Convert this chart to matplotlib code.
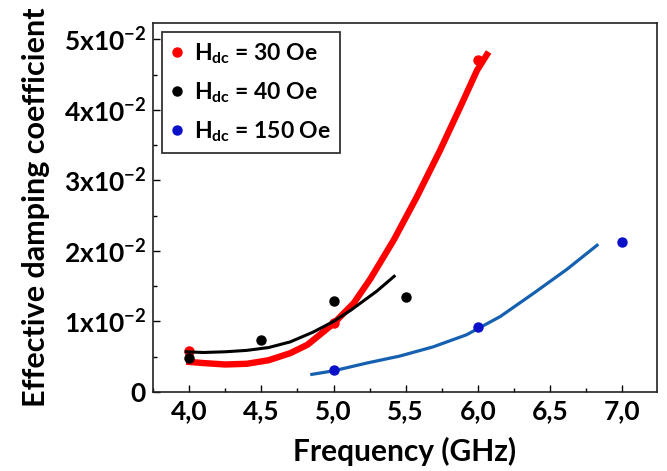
import matplotlib
matplotlib.use("Agg")
import matplotlib.pyplot as plt
from matplotlib.ticker import FixedLocator, MultipleLocator

plt.rcParams['font.family'] = ['Lato', 'DejaVu Sans']
plt.rcParams['mathtext.fontset'] = 'custom'
plt.rcParams['mathtext.rm'] = 'Lato:bold'
plt.rcParams['mathtext.bf'] = 'Lato:bold'
plt.rcParams['mathtext.it'] = 'Lato:bold'

# Measured points
freq_30 = [4.0, 5.0, 6.0]
damp_30 = [0.0058, 0.0098, 0.0470]
freq_40 = [4.0, 4.5, 5.0, 5.5]
damp_40 = [0.0048, 0.0074, 0.0129, 0.0135]
freq_150 = [5.0, 6.0, 7.0]
damp_150 = [0.0031, 0.0092, 0.0212]

# Fit curves
fit30_x = [3.98, 4.10, 4.25, 4.40, 4.55, 4.70, 4.82, 5.00, 5.14, 5.254, 5.416, 5.578, 5.739, 5.878, 5.994, 6.074]
fit30_y = [0.0043, 0.0041, 0.0039, 0.0040, 0.0045, 0.0055, 0.0067, 0.0097, 0.0126, 0.0160, 0.0215, 0.0277, 0.0343, 0.0404, 0.0456, 0.0482]
fit40_x = [3.98, 4.10, 4.25, 4.40, 4.55, 4.70, 4.86, 5.00, 5.12, 5.20, 5.30, 5.42]
fit40_y = [0.0057, 0.0056, 0.0057, 0.0059, 0.0063, 0.0071, 0.0085, 0.0100, 0.0116, 0.0128, 0.0143, 0.0164]
fit150_x = [4.85, 5.00, 5.23, 5.46, 5.69, 5.92, 6.155, 6.386, 6.617, 6.825]
fit150_y = [0.0025, 0.0030, 0.0041, 0.0051, 0.0064, 0.0081, 0.0107, 0.0140, 0.0174, 0.0208]

xticks = [4.0, 4.5, 5.0, 5.5, 6.0, 6.5, 7.0]
xticklabels = ["4,0", "4,5", "5,0", "5,5", "6,0", "6,5", "7,0"]
yticks = [0, 0.01, 0.02, 0.03, 0.04, 0.05]
yticklabels = ["0", r"1x10$^{\mathbf{-2}}$", r"2x10$^{\mathbf{-2}}$", r"3x10$^{\mathbf{-2}}$",
               r"4x10$^{\mathbf{-2}}$", r"5x10$^{\mathbf{-2}}$"]
labels = [r"H$_{\mathbf{dc}}$ = 30 Oe", r"H$_{\mathbf{dc}}$ = 40 Oe", r"H$_{\mathbf{dc}}$ = 150 Oe"]

fig = plt.figure(figsize=(6.67, 4.71), dpi=100)
ax = fig.add_axes([153/667, 1-392/471, (657-153)/667, (392-23)/471])

ax.plot(fit30_x, fit30_y, color='#ff0000', lw=4.6, solid_capstyle='butt', solid_joinstyle='round', zorder=3)
ax.plot(fit40_x, fit40_y, color='#000000', lw=2.2, solid_joinstyle='round', zorder=4)
ax.plot(fit150_x, fit150_y, color='#1560b0', lw=2.3, solid_joinstyle='round', zorder=4)

ax.plot(freq_30, damp_30, 'o', color='#ff0000', ms=6.5, label=labels[0], zorder=2)
ax.plot(freq_40, damp_40, 'o', color='#000000', ms=6.5, label=labels[1], zorder=5)
ax.plot(freq_150, damp_150, 'o', color='#0a10c8', ms=6.5, label=labels[2], zorder=5)

ax.set_xlim(3.75, 7.24)
ax.set_ylim(0, 0.0523)
ax.xaxis.set_major_locator(FixedLocator(xticks))
ax.set_xticklabels(xticklabels)
ax.xaxis.set_minor_locator(MultipleLocator(0.25))
ax.yaxis.set_major_locator(FixedLocator(yticks))
ax.set_yticklabels(yticklabels)
ax.yaxis.set_minor_locator(MultipleLocator(0.005))

ax.tick_params(which='both', direction='in', top=False, right=False, width=1.0)
ax.tick_params(which='major', length=5, labelsize=19, pad=5)
ax.tick_params(which='minor', length=3)
for lab in ax.get_xticklabels() + ax.get_yticklabels():
    lab.set_fontweight('bold')
for s in ax.spines.values():
    s.set_linewidth(1.2)
    s.set_color('#222222')

ax.set_xlabel("Frequency (GHz)", fontsize=21.5, fontweight='bold', labelpad=10)
ax.set_ylabel("Effective damping coefficient", fontsize=22, fontweight='bold', labelpad=10)

leg = ax.legend(loc='upper left', bbox_to_anchor=(0.018, 0.975), numpoints=1,
                handlelength=0.5, handletextpad=0.5, labelspacing=0.62,
                frameon=True, fancybox=False, borderpad=0.4, borderaxespad=0.0,
                prop={'weight': 'bold', 'size': 16.5})
leg.get_frame().set_edgecolor('black')
leg.get_frame().set_linewidth(1.3)

fig.savefig("out.png", dpi=100)
